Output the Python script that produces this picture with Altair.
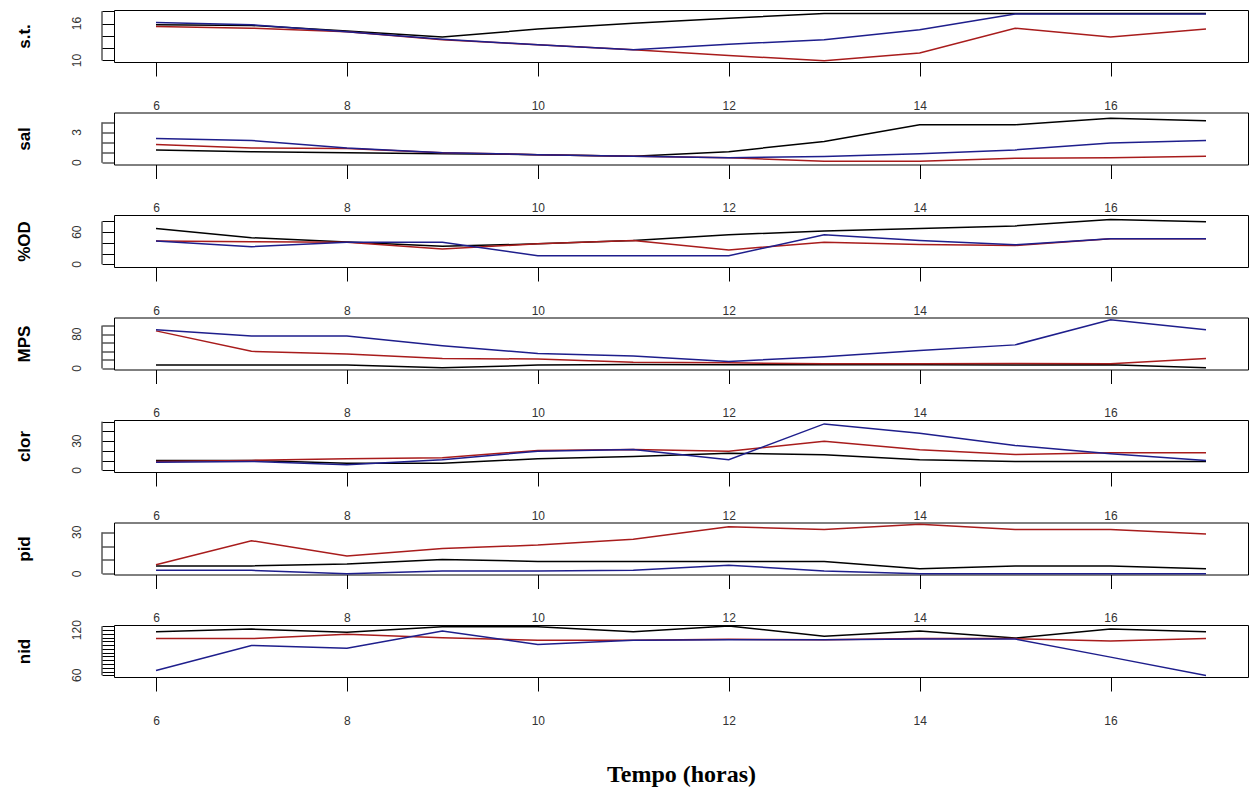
import altair as alt
import pandas as pd

hours = [6, 7, 8, 9, 10, 11, 12, 13, 14, 15, 16, 17]

st_black = [15.8, 15.7, 14.8, 13.8, 15.1, 16.05, 16.85, 17.65, 17.65, 17.65, 17.65, 17.65]
st_red = [15.5, 15.25, 14.65, 13.35, 12.55, 11.75, 10.8, 9.95, 11.2, 15.25, 13.8, 15.1]
st_blue = [16.15, 15.8, 14.65, 13.45, 12.55, 11.75, 12.65, 13.35, 15.0, 17.55, 17.55, 17.55]

sal_black = [1.27, 1.1, 0.98, 0.9, 0.8, 0.65, 1.1, 2.1, 3.75, 3.75, 4.4, 4.15]
sal_red = [1.8, 1.45, 1.4, 1.0, 0.8, 0.65, 0.5, 0.16, 0.16, 0.45, 0.5, 0.65]
sal_blue = [2.4, 2.2, 1.45, 1.0, 0.8, 0.65, 0.5, 0.62, 0.88, 1.27, 1.96, 2.2]

od_black = [66.7, 49.6, 41.5, 33.5, 38.2, 44.5, 55.3, 62.2, 66.7, 71.7, 83.8, 79.3]
od_red = [43.4, 42.0, 41.3, 28.7, 38.2, 44.5, 26.8, 41.3, 36.9, 35.0, 47.7, 47.7]
od_blue = [43.4, 33.0, 41.3, 41.3, 16.0, 16.0, 16.0, 55.3, 44.5, 36.3, 47.7, 47.7]

mps_black = [8, 8, 8, 1.6, 8, 9.4, 9, 9, 9, 8, 9, 1.6]
mps_red = [87.6, 40, 33.7, 23.4, 22, 14.5, 13.3, 11, 11, 11.7, 11, 23.4]
mps_blue = [90, 75.9, 75.9, 53.2, 35.1, 29, 16.5, 27.4, 42, 55, 113.3, 90]

clor_black = [10.2, 10.2, 7.4, 7.4, 11.9, 14.3, 17.5, 16, 10.9, 9.2, 9.2, 9.2]
clor_red = [9.2, 10.2, 11.9, 13, 20.4, 21.5, 19.7, 29.9, 21.1, 16.3, 18.1, 18.1]
clor_blue = [8.2, 9.2, 5.8, 10.9, 19.7, 21.5, 10.9, 47.7, 38.1, 25.5, 17, 10.2]

pid_black = [5.7, 5.7, 7, 10.4, 8.9, 8.9, 8.9, 8.9, 3.7, 5.7, 5.7, 3.7]
pid_red = [6.5, 23.9, 12.8, 18.2, 20.7, 25, 34, 32, 35.7, 32, 32, 28.7]
pid_blue = [2.5, 2.5, 0, 2, 2, 2.5, 6.2, 2, 0, 0, 0, 0]

nid_black = [117.7, 121.4, 117.3, 124.5, 124.5, 117.7, 125.5, 111.8, 118.7, 109.5, 121.4, 117.7]
nid_red = [108.7, 108.7, 114.6, 110, 106.4, 106.4, 107.7, 107.3, 108.7, 108.7, 105.4, 108.7]
nid_blue = [66.4, 99.6, 95.9, 118.7, 100.9, 106.4, 107.3, 107.3, 108.2, 108.2, 84.1, 59.6]

names = ["s.t.", "sal", "%OD", "MPS", "clor", "pid", "nid"]
domains = [[9.75, 18.2], [-0.17, 4.96], [-5, 92], [-2.3, 118.7], [-1.7, 51.7], [-0.5, 37], [57.7, 126.8]]
tick_values = [
    [10, 12, 14, 16, 18],
    [0, 1, 2, 3, 4],
    [0, 20, 40, 60, 80],
    [0, 20, 40, 60, 80, 100],
    [0, 10, 20, 30, 40, 50],
    [0, 10, 20, 30],
    [60, 65, 70, 75, 80, 85, 90, 95, 100, 105, 110, 115, 120, 125],
]
shown_labels = [[10, 16], [0, 3], [0, 60], [0, 80], [0, 30], [0, 30], [60, 120]]
series = [
    (st_black, st_red, st_blue),
    (sal_black, sal_red, sal_blue),
    (od_black, od_red, od_blue),
    (mps_black, mps_red, mps_blue),
    (clor_black, clor_red, clor_blue),
    (pid_black, pid_red, pid_blue),
    (nid_black, nid_red, nid_blue),
]
x_ticks = [6, 8, 10, 12, 14, 16]
colors = ["#000000", "#a81c1c", "#1e1e8c"]

W = 1134
H = 52


def make_panel(i):
    name = names[i]
    last = i == len(names) - 1
    xs = alt.Scale(domain=[5.56, 17.44], nice=False, zero=False)
    ys = alt.Scale(domain=domains[i], nice=False, zero=False)
    xaxis = alt.Axis(
        values=x_ticks, tickSize=14, domain=False, grid=False, labelPadding=24,
        labelFont="Liberation Sans", labelFontSize=12, labelColor="#333333",
        labelFlush=False, tickColor="black",
        title="Tempo (horas)" if last else None,
        titleFont="Liberation Serif", titleFontSize=24, titleFontWeight="bold",
        titleColor="black", titlePadding=36,
    )
    yaxis = alt.Axis(
        values=tick_values[i], tickSize=12, domain=False, grid=False, labels=False,
        tickColor="black",
        title=name, titleX=-90, titleY=H / 2, titleAngle=270, titleAlign="center",
        titleBaseline="middle", titleFont="Liberation Sans", titleFontSize=17,
        titleFontWeight="bold", titleColor="black",
    )
    rule_df = pd.DataFrame({"valor": [tick_values[i][0]], "valor2": [tick_values[i][-1]]})
    rule = alt.Chart(rule_df).mark_rule(color="black", strokeWidth=1).encode(
        x=alt.value(-12),
        y=alt.Y("valor:Q", scale=ys, axis=yaxis),
        y2="valor2:Q",
    )
    lab_df = pd.DataFrame({"valor": shown_labels[i], "rotulo": [str(v) for v in shown_labels[i]]})
    labels = alt.Chart(lab_df).mark_text(
        angle=270, align="center", baseline="middle", font="Liberation Sans",
        fontSize=12, color="#333333",
    ).encode(
        x=alt.value(-37),
        y=alt.Y("valor:Q", scale=ys, axis=yaxis),
        text="rotulo:N",
    )
    layers = [rule, labels]
    for vals, col in zip(series[i], colors):
        df = pd.DataFrame({"hora": hours, "valor": vals})
        layers.append(
            alt.Chart(df).mark_line(color=col, strokeWidth=1.5).encode(
                x=alt.X("hora:Q", scale=xs, axis=xaxis),
                y=alt.Y("valor:Q", scale=ys, axis=yaxis),
            )
        )
    return alt.layer(*layers).properties(width=W, height=H)


chart = alt.vconcat(*[make_panel(i) for i in range(len(names))], spacing=50.5, bounds="flush").properties(
    padding={"left": 14, "top": 9, "right": 0, "bottom": 0},
    background="white",
).configure_view(stroke="black", strokeWidth=1)

chart.save("out.html", embed_options={"renderer": "svg", "actions": False})
